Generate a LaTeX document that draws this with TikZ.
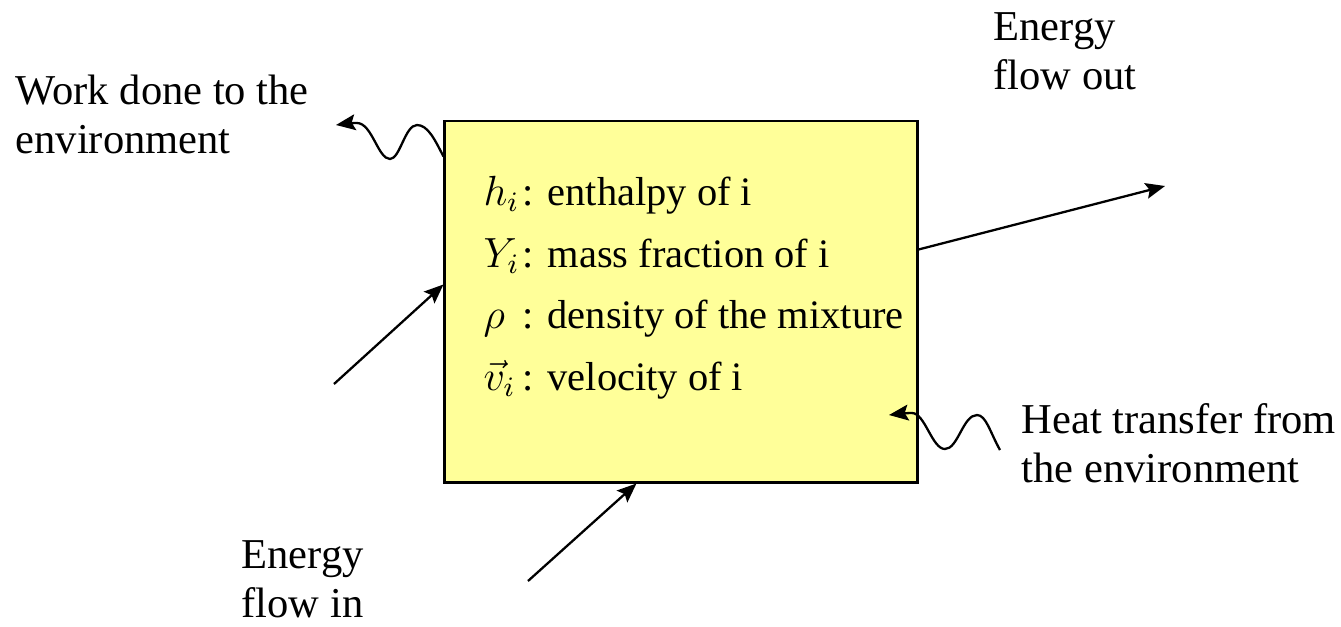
\documentclass[tikz,border=0pt]{standalone}
\usepackage{amsmath,amssymb}
\usepackage{fontspec}
\setmainfont{Liberation Serif}
\usepackage{xcolor}
\usetikzlibrary{arrows.meta,positioning,calc}
\definecolor{cvyellow}{HTML}{FFFF99}

\begin{document}
\begin{tikzpicture}[x=0.01cm, y=-0.01cm, every node/.style={align=left, inner sep=0pt}]
\tikzset{
  cv/.style={draw, line width=0.8pt, fill=cvyellow, minimum width=4.72cm, minimum height=3.61cm},
  lbl/.style={anchor=base west, font=\fontsize{12.1}{13.7}\selectfont},
  var/.style={anchor=base west, font=\fontsize{11.5}{13}\selectfont},
  flow/.style={line width=0.65pt, -{Stealth[length=5.5pt, width=4.5pt, inset=1pt]}}
}
\useasboundingbox (0,0) rectangle (1341,626);
% control volume
\node[cv] (box) at (681,301.5) {};
\node[var] (hi) at (483,205) {\makebox[0.39cm][l]{$h_i$}\makebox[0.25cm][l]{:}enthalpy of i};
\node[var] (yi) at (483,267) {\makebox[0.39cm][l]{$Y_i$}\makebox[0.25cm][l]{:}mass fraction of i};
\node[var] (rho) at (483,328) {\makebox[0.39cm][l]{$\rho$}\makebox[0.25cm][l]{:}density of the mixture};
\node[var] (vi) at (483,390) {\makebox[0.39cm][l]{$\vec{v}_i$}\makebox[0.25cm][l]{:}velocity of i};
% labels (base = last line)
\node[lbl] (work) at (15,153) {Work done to the\\environment};
\node[lbl] (eout) at (993,89) {Energy\\flow out};
\node[lbl] (heat) at (1021,482) {Heat transfer from\\the environment};
\node[lbl] (ein) at (241,617) {Energy\\flow in};
% free ends
\coordinate (workend) at (336,125);
\coordinate (heatstart) at (1000,450);
\coordinate (einleft) at (334,384);
\coordinate (einbottom) at (528,581);
\coordinate (eoutend) at (1165,186);
% flows
\draw[flow] ($(box.north west)+(0,37)$) .. controls (435,140) and (428,125) .. (417,125)
  .. controls (405,125) and (400,159) .. (390,159)
  .. controls (378,159) and (372,123) .. (357,123)
  .. controls (350,123) and (343,124) .. (workend);
\draw[flow] (heatstart) .. controls (990,432) and (986,415) .. (977,415)
  .. controls (963,415) and (958,449) .. (945,449)
  .. controls (932,449) and (925,413) .. (912,413)
  .. controls (905,413) and (897,414) .. (889,415);
\draw[flow] (einleft) -- ($(box.north west)+(0,165)$);
\draw[flow] (einbottom) -- ($(box.south west)+(193,0)$);
\draw[flow] ($(box.north east)+(0,130)$) -- (eoutend);
\end{tikzpicture}
\end{document}
